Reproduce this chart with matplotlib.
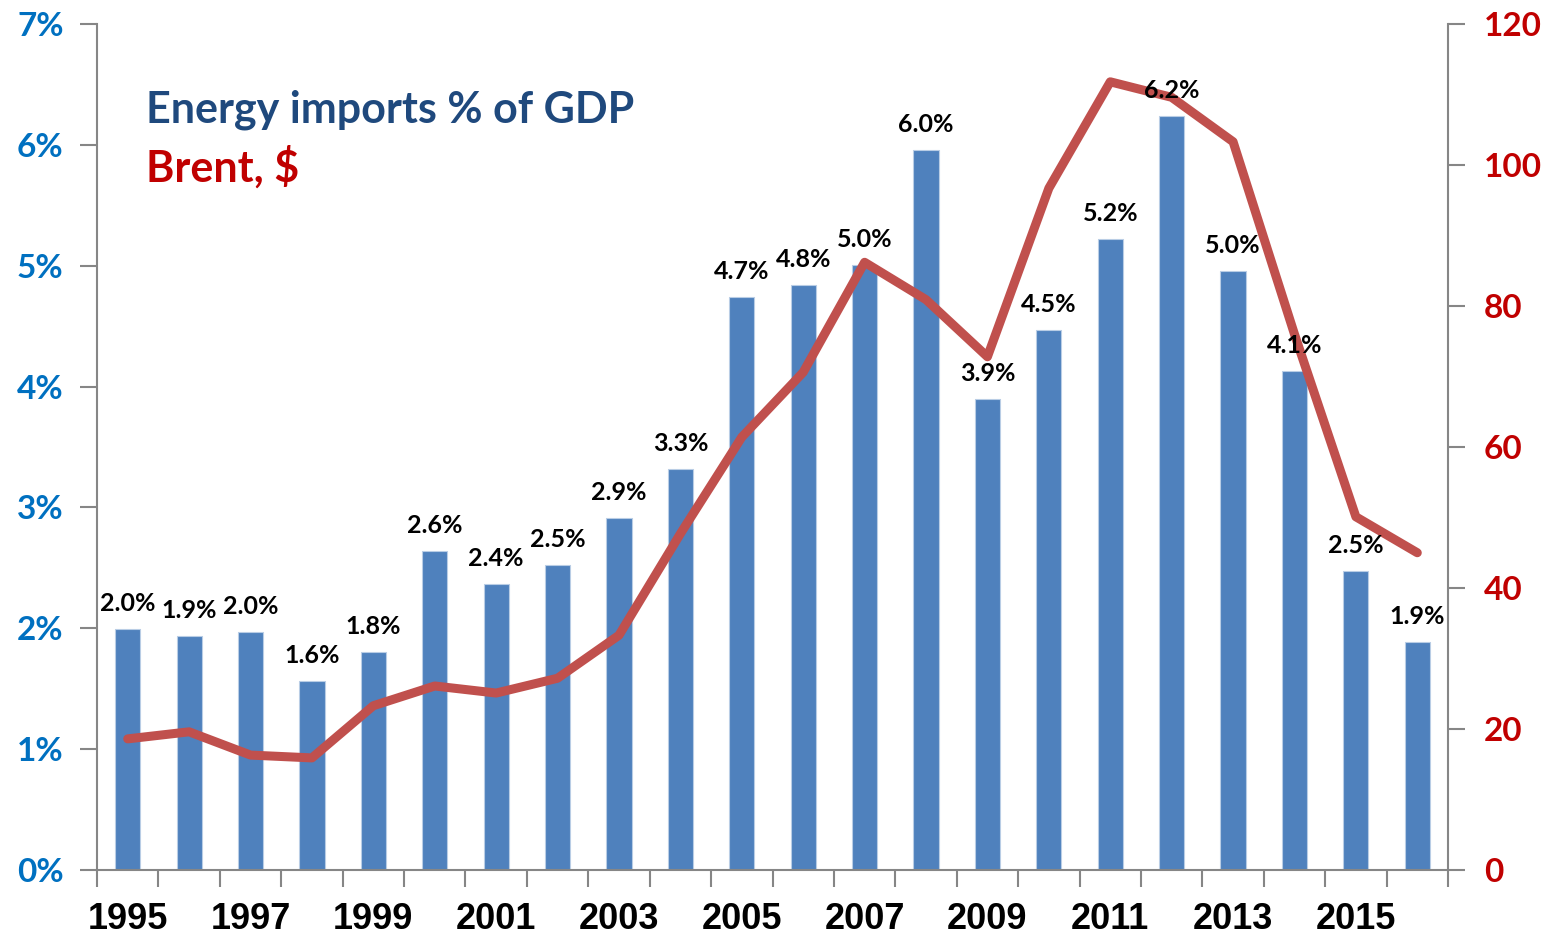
import matplotlib
matplotlib.use("Agg")
import matplotlib.pyplot as plt
import numpy as np

years = list(range(1995, 2017))
energy_imports_pct = [1.99, 1.94, 1.97, 1.56, 1.80, 2.64, 2.37, 2.52, 2.91, 3.32,
                      4.74, 4.84, 5.01, 5.96, 3.90, 4.47, 5.22, 6.24, 4.96, 4.13,
                      2.47, 1.89]
brent_usd = [18.6, 19.6, 16.3, 15.9, 23.3, 26.1, 25.1, 27.2, 33.3, 47.7,
             61.4, 70.6, 86.2, 80.9, 72.8, 96.7, 111.8, 109.6, 103.3, 76.0,
             50.1, 45.0]
left_ticks = [0, 1, 2, 3, 4, 5, 6, 7]
right_ticks = [0, 20, 40, 60, 80, 100, 120]

BAR = "#4F81BD"
LINE = "#C0504D"
AX_GRAY = "#868686"
LBLUE = "#0070C0"
DRED = "#C00000"
TBLUE = "#1F497D"
CAL = ["Lato", "DejaVu Sans"]

fig = plt.figure(figsize=(15.51, 9.34), dpi=100)
ax = fig.add_axes([97/1551, 64/934, (1448-97)/1551, (870-24)/934])
x = np.arange(len(years))
ax.bar(x, energy_imports_pct, width=0.41, color=BAR, edgecolor="#B9CDE5", linewidth=0.8, zorder=2)
ax.set_xlim(-0.5, len(years) - 0.5)
ax.set_ylim(0, 7)
ax.set_yticks(left_ticks)
ax.set_yticklabels([f"{t}%" for t in left_ticks], fontfamily=CAL, fontweight="bold",
                   fontsize=24, color=LBLUE)
ax.tick_params(axis="y", direction="out", length=12, width=1.5, color=AX_GRAY, pad=12)

# x: labels every other year, ticks at category boundaries
ax.set_xticks(x[::2])
ax.set_xticklabels([str(y) for y in years[::2]], fontfamily="Liberation Sans",
                   fontweight="bold", fontsize=26, color="black")
ax.tick_params(axis="x", which="major", length=0, pad=23)
ax.set_xticks(np.arange(-0.5, len(years), 1.0), minor=True)
ax.tick_params(axis="x", which="minor", direction="out", length=12, width=1.5, color=AX_GRAY)

for side in ["top", "right"]:
    ax.spines[side].set_visible(False)
for side in ["left", "bottom"]:
    ax.spines[side].set_color(AX_GRAY)
    ax.spines[side].set_linewidth(1.5)

ax2 = ax.twinx()
ax2.plot(x, brent_usd, color=LINE, linewidth=6.5, solid_capstyle="round",
         solid_joinstyle="round", zorder=3)
ax2.set_ylim(0, 120)
ax2.set_yticks(right_ticks)
ax2.set_yticklabels([str(t) for t in right_ticks], fontfamily=CAL, fontweight="bold",
                    fontsize=24, color=DRED)
ax2.tick_params(axis="y", direction="out", length=12, width=1.5, color=AX_GRAY, pad=14)
for side in ["top", "left", "bottom"]:
    ax2.spines[side].set_visible(False)
ax2.spines["right"].set_color(AX_GRAY)
ax2.spines["right"].set_linewidth(1.5)

for xi, v in zip(x, energy_imports_pct):
    ax2.annotate(f"{v:.1f}%", xy=(xi, v), xycoords=ax.transData,
                 xytext=(0, 18), textcoords="offset pixels",
                 ha="center", va="baseline", fontfamily=CAL, fontweight="bold",
                 fontsize=18, color="black", zorder=5)

fig.text(146/1551, 1 - 110/934, "Energy imports % of GDP", fontfamily=CAL,
         fontweight="bold", fontsize=31, color=TBLUE, ha="left", va="center")
fig.text(146/1551, 1 - 167/934, "Brent, $", fontfamily=CAL,
         fontweight="bold", fontsize=31, color=DRED, ha="left", va="center")

fig.savefig("out.png", dpi=100)
